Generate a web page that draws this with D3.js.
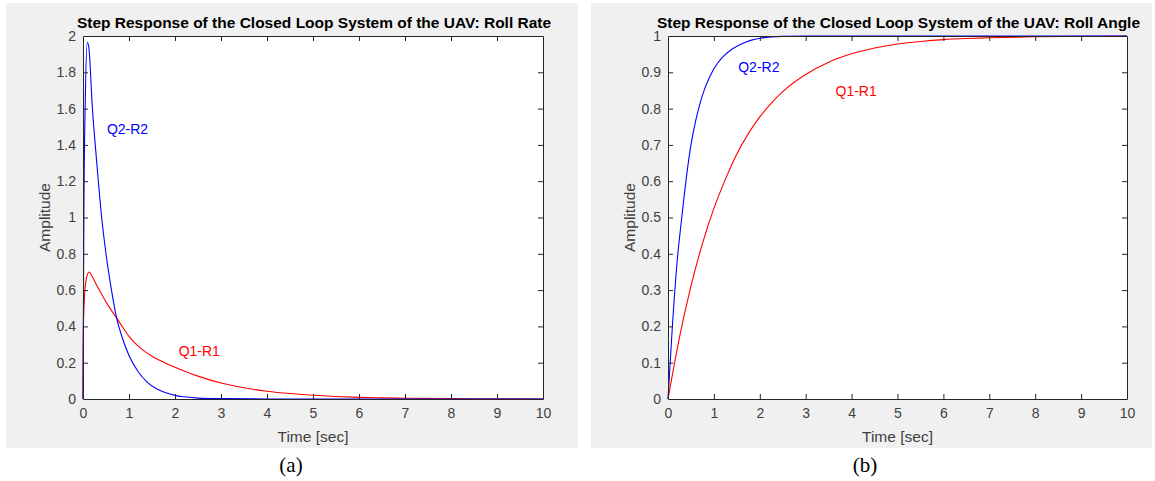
<!DOCTYPE html>
<html><head><meta charset="utf-8">
<script src="https://cdn.jsdelivr.net/npm/d3@7"></script>
<style>body{margin:0;background:#fff}svg{display:block}</style>
</head><body>
<svg id="c" width="1155" height="481"></svg>
<script>
// ---- data ----
const xTicks = [0,1,2,3,4,5,6,7,8,9,10];
const yTicksA = [0,0.2,0.4,0.6,0.8,1,1.2,1.4,1.6,1.8,2];
const yTicksB = [0,0.1,0.2,0.3,0.4,0.5,0.6,0.7,0.8,0.9,1];

// Roll rate (a)
const rateQ2R2 = [[0,0],[0.02,1.05],[0.05,1.65],[0.094,1.965],[0.13,1.93],[0.2,1.62],[0.3,1.3],[0.41,0.99],[0.5,0.8],[0.6,0.63],[0.73,0.447],[0.85,0.34],[1.0,0.24],[1.2,0.15],[1.4,0.092],[1.6,0.056],[1.8,0.034],[2.0,0.02],[2.2,0.012],[2.5,0.005],[3,0.002],[4,0],[10,0]];
const rateQ1R1 = [[0,0],[0.005,0.35],[0.03,0.55],[0.07,0.66],[0.13,0.70],[0.2,0.675],[0.3,0.625],[0.4,0.58],[0.5,0.535],[0.6,0.495],[0.73,0.447],[0.85,0.4],[1.0,0.345],[1.25,0.28],[1.5,0.236],[1.75,0.203],[2,0.175],[2.25,0.149],[2.5,0.126],[3,0.088],[3.5,0.062],[4,0.043],[4.5,0.03],[5,0.021],[5.5,0.014],[6,0.009],[6.5,0.006],[7,0.004],[8,0.002],[9,0.001],[10,0]];

// Roll angle (b)
const angleQ2R2 = [[0,0],[0.1,0.21],[0.2,0.38],[0.3,0.5],[0.4,0.61],[0.5,0.7],[0.6,0.765],[0.7,0.815],[0.8,0.855],[0.9,0.885],[1.0,0.91],[1.2,0.943],[1.4,0.964],[1.6,0.978],[1.8,0.988],[2.0,0.994],[2.5,0.999],[3,1],[10,1]];
const angleQ1R1 = [[0,0],[0.25,0.17],[0.5,0.311],[0.75,0.428],[1,0.525],[1.25,0.605],[1.5,0.675],[1.75,0.731],[2,0.777],[2.25,0.815],[2.5,0.847],[3,0.894],[3.5,0.928],[4,0.951],[4.5,0.967],[5,0.978],[5.5,0.985],[6,0.99],[6.5,0.993],[7,0.995],[8,0.998],[9,0.999],[10,1]];

const panels = [
  {bg:[6,3,572,445], plot:[83,36,543,399], yMax:2, yTicks:yTicksA, title:"Step Response of the Closed Loop System of the UAV: Roll Rate",
   series:[{d:rateQ1R1,c:"#ff0000"},{d:rateQ2R2,c:"#0000ff"}],
   labels:[{t:"Q2-R2",x:0.52,y:1.46,c:"#0000ff"},{t:"Q1-R1",x:2.08,y:0.235,c:"#ff0000"}], cap:"(a)", capX:291},
  {bg:[591,3,561,445], plot:[668,36,1127,399], yMax:1, yTicks:yTicksB, title:"Step Response of the Closed Loop System of the UAV: Roll Angle",
   series:[{d:angleQ1R1,c:"#ff0000"},{d:angleQ2R2,c:"#0000ff"}],
   labels:[{t:"Q2-R2",x:1.53,y:0.9,c:"#0000ff"},{t:"Q1-R1",x:3.65,y:0.835,c:"#ff0000"}], cap:"(b)", capX:865}
];

const svg = d3.select("#c");
const font = "'Liberation Sans', Arial, Helvetica, sans-serif";
const axC = "#262626";

panels.forEach(p => {
  const [bx,by,bw,bh] = p.bg;
  svg.append("rect").attr("x",bx).attr("y",by).attr("width",bw).attr("height",bh).attr("fill","#f0f0f0");
  const [x0,y0,x1,y1] = p.plot;
  const x = d3.scaleLinear().domain([0,10]).range([x0,x1]);
  const y = d3.scaleLinear().domain([0,p.yMax]).range([y1,y0]);
  const g = svg.append("g");
  g.append("rect").attr("x",x0).attr("y",y0).attr("width",x1-x0).attr("height",y1-y0).attr("fill","#fff");

  const clipId = "clip"+p.cap.replace(/\W/g,"");
  svg.append("clipPath").attr("id",clipId).append("rect").attr("x",x0-1).attr("y",y0-1).attr("width",x1-x0+2).attr("height",y1-y0+2);

  const line = d3.line().x(d=>x(d[0])).y(d=>y(d[1])).curve(d3.curveMonotoneX);
  p.series.forEach(s => {
    g.append("path").attr("d",line(s.d)).attr("fill","none").attr("stroke",s.c).attr("stroke-width",1.1).attr("clip-path",`url(#${clipId})`);
  });

  // axes (ticks inward, MATLAB style)
  const xb = g.append("g").attr("transform",`translate(0,${y1})`).call(d3.axisBottom(x).tickValues(xTicks).tickSizeInner(-5).tickSizeOuter(0).tickPadding(9).tickFormat(d3.format("d")));
  const xt = g.append("g").attr("transform",`translate(0,${y0})`).call(d3.axisTop(x).tickValues(xTicks).tickSizeInner(-5).tickSizeOuter(0).tickFormat(""));
  const yl = g.append("g").attr("transform",`translate(${x0},0)`).call(d3.axisLeft(y).tickValues(p.yTicks).tickSizeInner(-5).tickSizeOuter(0).tickPadding(7).tickFormat(d=>d3.format("~g")(d)));
  const yr = g.append("g").attr("transform",`translate(${x1},0)`).call(d3.axisRight(y).tickValues(p.yTicks).tickSizeInner(-5).tickSizeOuter(0).tickFormat(""));
  [xb,xt,yl,yr].forEach(a => {
    a.selectAll(".domain").attr("stroke",axC);
    a.selectAll(".tick line").attr("stroke",axC);
    a.selectAll("text").attr("fill","#404040").style("font-family",font).style("font-size","14px");
  });
  [xb,xt].forEach(a=>a.selectAll(".tick").filter(d=>d===0||d===10).select("line").remove());
  [yl,yr].forEach(a=>a.selectAll(".tick").filter(d=>d===0||d===p.yMax).select("line").remove());

  p.labels.forEach(l => {
    g.append("text").attr("x",x(l.x)).attr("y",y(l.y)).attr("fill",l.c).style("font-family",font).style("font-size","14px").text(l.t);
  });

  const cx = (x0+x1)/2;
  g.append("text").attr("x",cx+1).attr("y",28).attr("text-anchor","middle").style("font-family",font).style("font-size","15.5px").style("font-weight","bold").attr("fill","#000").text(p.title);
  g.append("text").attr("x",cx).attr("y",442).attr("text-anchor","middle").style("font-family",font).style("font-size","15.5px").attr("fill","#404040").text("Time [sec]");
  g.append("text").attr("transform",`translate(${x0-33},${(y0+y1)/2}) rotate(-90)`).attr("text-anchor","middle").style("font-family",font).style("font-size","15.5px").attr("fill","#404040").text("Amplitude");
  svg.append("text").attr("x",p.capX).attr("y",472).attr("text-anchor","middle").style("font-family","'Liberation Serif','Times New Roman',serif").style("font-size","21px").attr("fill","#000").text(p.cap);
});
</script>
</body></html>
